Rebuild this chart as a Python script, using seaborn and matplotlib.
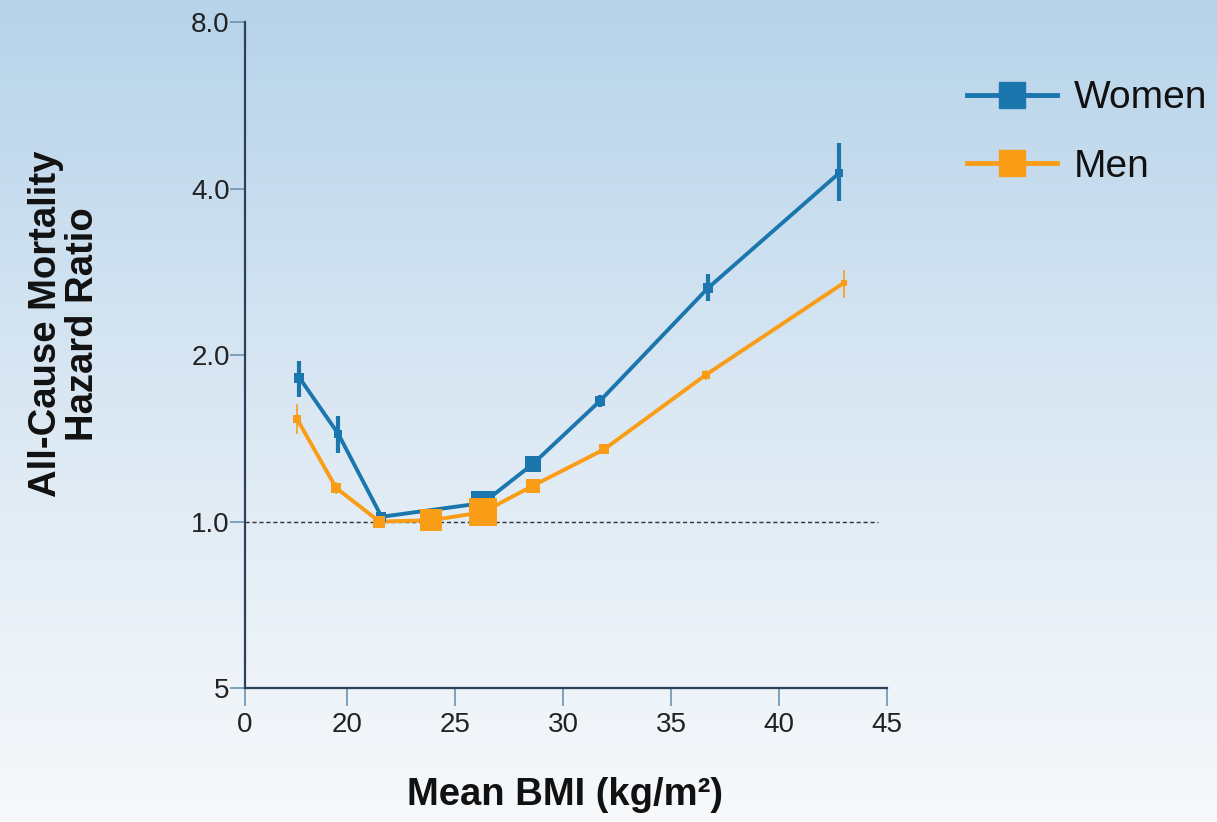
import numpy as np
import pandas as pd
import matplotlib
matplotlib.use("Agg")
import matplotlib.pyplot as plt
from matplotlib.lines import Line2D
from matplotlib.colors import LinearSegmentedColormap
import seaborn as sns

# values
women_bmi = [17.8, 19.6, 21.6, 26.3, 28.6, 31.7, 36.7, 42.8]
women_hr = [1.82, 1.44, 1.02, 1.08, 1.27, 1.65, 2.64, 4.27]
women_lo = [1.68, 1.33, 1.00, 1.06, 1.24, 1.61, 2.50, 3.79]
women_hi = [1.95, 1.55, 1.04, 1.10, 1.30, 1.69, 2.80, 4.84]
women_size = [10, 8, 10, 24, 16, 10, 10, 8]

men_bmi = [17.7, 19.5, 21.5, 23.9, 26.3, 28.6, 31.9, 36.6, 43.0]
men_hr = [1.53, 1.15, 1.00, 1.005, 1.04, 1.16, 1.35, 1.84, 2.70]
men_lo = [1.44, 1.12, 0.99, 0.995, 1.03, 1.14, 1.33, 1.80, 2.54]
men_hi = [1.63, 1.18, 1.01, 1.015, 1.05, 1.18, 1.37, 1.88, 2.85]
men_size = [8, 10, 12, 22, 28, 14, 10, 8, 6]

y_ticks = [0.5, 1.0, 2.0, 4.0, 8.0]
y_labels = ["5", "1.0", "2.0", "4.0", "8.0"]
x_ticks = [15.28, 20, 25, 30, 35, 40, 45]
x_labels = ["0", "20", "25", "30", "35", "40", "45"]

women_color = "#1b76ad"
men_color = "#fa9d16"

df = pd.concat([
    pd.DataFrame({"bmi": women_bmi, "hr": women_hr, "lo": women_lo, "hi": women_hi,
                  "px": women_size, "sex": "Women"}),
    pd.DataFrame({"bmi": men_bmi, "hr": men_hr, "lo": men_lo, "hi": men_hi,
                  "px": men_size, "sex": "Men"}),
], ignore_index=True)
# marker area in pt^2 from pixel side
df["area"] = (df["px"] * 0.72) ** 2

plt.rcParams["font.family"] = ["Liberation Sans", "DejaVu Sans"]

fig = plt.figure(figsize=(12.17, 8.22), dpi=100)

# gradient background
bg = fig.add_axes([0, 0, 1, 1], zorder=-10)
cmap = LinearSegmentedColormap.from_list("bg", ["#f7f9fb", "#dbe8f3", "#b6d3ea"])
grad = np.linspace(0, 1, 256).reshape(-1, 1)
bg.imshow(grad, aspect="auto", cmap=cmap, origin="lower", extent=[0, 1, 0, 1])
bg.axis("off")

ax = fig.add_axes([0.2013, 0.163, 0.5275, 0.8102])
ax.set_facecolor("none")
ax.set_yscale("log")

# reference line at HR = 1
ax.plot([15.28, 44.6], [1.0, 1.0], color="#333333", lw=1.0, ls=(0, (3, 2)), zorder=1)

palette = {"Women": women_color, "Men": men_color}
sns.lineplot(data=df, x="bmi", y="hr", hue="sex", palette=palette, lw=2.8,
             sort=False, legend=False, ax=ax, zorder=3)

# error bars
for sex, lw in [("Women", 3.0), ("Men", 1.2)]:
    sub = df[df["sex"] == sex]
    ax.vlines(sub["bmi"], sub["lo"], sub["hi"], color=palette[sex], lw=lw, zorder=4)

sns.scatterplot(data=df, x="bmi", y="hr", hue="sex", palette=palette, size="area",
                sizes=(df["area"].min(), df["area"].max()), marker="s",
                linewidth=0, legend=False, ax=ax, zorder=5)

ax.set_xlim(15.28, 45)
ax.set_ylim(0.5, 8.0)
ax.set_yticks(y_ticks)
ax.set_yticklabels(y_labels)
ax.yaxis.set_minor_locator(matplotlib.ticker.NullLocator())
ax.set_xticks(x_ticks)
ax.set_xticklabels(x_labels)

for s in ["top", "right"]:
    ax.spines[s].set_visible(False)
for s in ["left", "bottom"]:
    ax.spines[s].set_color("#2c405c")
    ax.spines[s].set_linewidth(1.6)

ax.tick_params(axis="y", length=11, width=1.2, color="#6b93b3", labelsize=20,
               labelcolor="#222222", pad=0)
ax.tick_params(axis="x", length=13, width=1.2, color="#6b93b3", labelsize=20,
               labelcolor="#222222", pad=4)

ax.set_xlabel("")
ax.set_ylabel("")
fig.text(0.464, 0.033, "Mean BMI (kg/m²)", ha="center", va="center",
         fontsize=27.5, fontweight="bold", color="#111111")
fig.text(0.053, 0.606, "All-Cause Mortality\nHazard Ratio", ha="center", va="center",
         rotation=90, fontsize=27.5, fontweight="bold", color="#111111", linespacing=1.05)

handles = [
    Line2D([], [], color=women_color, lw=3.5, marker="s", markersize=19),
    Line2D([], [], color=men_color, lw=3.5, marker="s", markersize=19),
]
fig.legend(handles, ["Women", "Men"], loc="upper left", bbox_to_anchor=(0.782, 0.921),
           borderaxespad=0, frameon=False, fontsize=28, handlelength=2.3,
           handletextpad=0.45, labelspacing=0.83, labelcolor="#111111")

fig.savefig("out.png", dpi=100)
